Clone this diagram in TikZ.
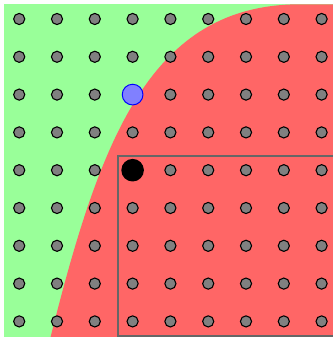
\documentclass[tikz,border=0pt]{standalone}
\definecolor{bggreen}{HTML}{99FF99}
\definecolor{bgred}{HTML}{FF6666}
\definecolor{dotgray}{HTML}{808080}
\definecolor{boxgray}{HTML}{666666}
\definecolor{markblue}{HTML}{8080FF}
\tikzset{
  dot/.style={circle,draw=black,fill=dotgray,line width=0.8pt,inner sep=0pt,minimum size=8.4pt},
  bluemark/.style={circle,draw=blue,fill=markblue,line width=0.75pt,inner sep=0pt,minimum size=15.6pt},
  blackmark/.style={circle,fill=black,inner sep=0pt,minimum size=17pt},
  region/.style={line width=1.6pt,draw=boxgray}
}
\begin{document}
\begin{tikzpicture}[x=0.26458mm,y=-0.26458mm]
\useasboundingbox (0,0) rectangle (333,337);
\clip (0,0) rectangle (333,337);
\fill[bggreen] (4.3,4.3) rectangle (340,340);
\fill[bgred] (50,340) -- (50.6,337) .. controls (100,140) and (150,4.3) .. (300,4.3) -- (340,4.3) -- (340,340) -- cycle;
\draw[region] (118.3,155.7) rectangle (345,336);
\foreach \i in {0,...,8}{
  \foreach \j in {0,...,8}{
    \node[dot] (d-\i-\j) at ({19.2+37.8*\i},{19+37.8*\j}) {};
  }
}
\node[bluemark] (blue) at (d-3-2) {};
\node[blackmark] (black) at (d-3-4) {};
\end{tikzpicture}
\end{document}
